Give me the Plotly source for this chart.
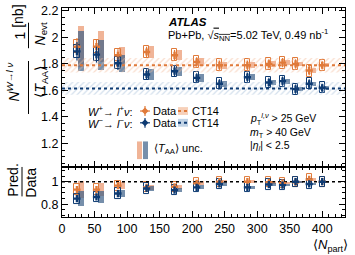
import plotly.graph_objects as go
from plotly.subplots import make_subplots

# ---------------- data ----------------
npart = [23, 53, 86, 130, 173, 207, 242, 285, 318, 339, 359, 380, 400]
wplus = [1.93, 1.93, 1.865, 1.89, 1.865, 1.815, 1.79, 1.79, 1.80, 1.81, 1.80, 1.75, 1.79]
wminus = [1.895, 1.87, 1.805, 1.72, 1.745, 1.695, 1.65, 1.70, 1.66, 1.67, 1.61, 1.65, 1.62]
stat_plus = [0.065, 0.055, 0.045, 0.04, 0.04, 0.035, 0.035, 0.035, 0.035, 0.035, 0.035, 0.035, 0.03]
stat_minus = [0.07, 0.06, 0.05, 0.04, 0.04, 0.035, 0.035, 0.035, 0.035, 0.035, 0.035, 0.035, 0.03]
sys_plus = [0.05, 0.048, 0.045, 0.045, 0.045, 0.045, 0.045, 0.045, 0.045, 0.045, 0.045, 0.045, 0.04]
sys_minus = [0.05, 0.048, 0.045, 0.042, 0.042, 0.042, 0.042, 0.042, 0.042, 0.042, 0.042, 0.042, 0.04]
taa_rel = [0.08, 0.06, 0.035, 0.025, 0.02, 0.017, 0.015, 0.013, 0.012, 0.011, 0.01, 0.01, 0.009]
ratio_plus = [0.93, 0.93, 0.965, 0.95, 0.955, 0.985, 1.0, 1.0, 0.995, 0.99, 0.995, 1.02, 1.0]
ratio_minus = [0.85, 0.865, 0.895, 0.94, 0.925, 0.95, 0.98, 0.95, 0.975, 0.97, 1.0, 0.98, 1.0]
ratio_sys = [0.045] * 13
ct14_plus, ct14_plus_unc = 1.79, 0.055
ct14_minus, ct14_minus_unc = 1.615, 0.048
x_range = [0, 435]

ORANGE = "#E07A3A"
ORANGE_SH = "rgba(232,140,95,0.65)"
BLUE = "#0E3B73"
BLUE_SH = "rgba(60,95,135,0.7)"
FONT = "Liberation Sans, Arial, sans-serif"

fig = make_subplots(rows=2, cols=1, shared_xaxes=True, vertical_spacing=0,
                    row_heights=[0.761, 0.239])

for c, u, col, pat in [(ct14_plus, ct14_plus_unc, ORANGE, "#F3BC9B"),
                       (ct14_minus, ct14_minus_unc, BLUE, "#A7C0DA")]:
    fig.add_trace(go.Scatter(x=[x_range[0], x_range[1], x_range[1], x_range[0], x_range[0]],
                             y=[c - u, c - u, c + u, c + u, c - u], mode="lines",
                             line=dict(width=0), fill="toself", fillcolor="rgba(0,0,0,0)",
                             fillpattern=dict(shape="/", fgcolor=pat, bgcolor="rgba(255,255,255,0)",
                                              size=4, solidity=0.3),
                             hoverinfo="skip", showlegend=False), row=1, col=1)
    fig.add_trace(go.Scatter(x=x_range, y=[c, c], mode="lines",
                             line=dict(color=col, width=2, dash="dot"),
                             showlegend=False), row=1, col=1)

fig.add_trace(go.Scatter(x=x_range, y=[1, 1], mode="lines",
                         line=dict(color="black", width=1.5, dash="dot"), showlegend=False),
              row=2, col=1)

W_BOX = 8.0
W_TAA = 9.0
OFF_TAA = 2.0


def add_series(row, vals, stat, sys, col, shade):
    taa = [v * r for v, r in zip(vals, taa_rel)]
    fig.add_trace(go.Bar(x=npart, y=[2 * t for t in taa], base=[v - t for v, t in zip(vals, taa)],
                         width=W_TAA, offset=OFF_TAA, marker=dict(color=shade, line=dict(width=0)),
                         showlegend=False), row=row, col=1)
    fig.add_trace(go.Bar(x=npart, y=[2 * s for s in sys], base=[v - s for v, s in zip(vals, sys)],
                         width=W_BOX, offset=-W_BOX / 2,
                         marker=dict(color="rgba(0,0,0,0)", line=dict(color=col, width=1)),
                         showlegend=False), row=row, col=1)
    fig.add_trace(go.Scatter(x=npart, y=vals, mode="markers",
                             marker=dict(symbol="cross", size=6, color=col),
                             error_y=dict(type="data", array=stat, color=col, thickness=1.2, width=0)
                             if stat is not None else None,
                             showlegend=False), row=row, col=1)


add_series(1, wplus, stat_plus, sys_plus, ORANGE, ORANGE_SH)
add_series(1, wminus, stat_minus, sys_minus, BLUE, BLUE_SH)
add_series(2, ratio_plus, None, ratio_sys, ORANGE, ORANGE_SH)
add_series(2, ratio_minus, None, ratio_sys, BLUE, BLUE_SH)

axis_common = dict(showline=True, linecolor="black", linewidth=1, mirror="ticks",
                   ticks="inside", ticklen=6, tickcolor="black", showgrid=False, zeroline=False,
                   tickfont=dict(family=FONT, size=12.5, color="black"))
fig.update_xaxes(range=x_range, dtick=50, tick0=0,
                 minor=dict(ticks="inside", ticklen=3, dtick=10, tickcolor="black"), **axis_common)
fig.update_xaxes(showticklabels=False, row=1, col=1)
fig.update_yaxes(range=[1.022, 2.222], tickvals=[1.2, 1.4, 1.6, 1.8, 2.0, 2.2],
                 ticktext=["1.2", "1.4", "1.6", "1.8", "2", "2.2"],
                 minor=dict(ticks="inside", ticklen=3, dtick=0.05, tick0=1.0, tickcolor="black"),
                 row=1, col=1, **axis_common)
fig.update_yaxes(range=[0.687, 1.13], tickvals=[0.8, 1.0], ticktext=["0.8", "1"],
                 minor=dict(ticks="inside", ticklen=3, dtick=0.05, tick0=0.7, tickcolor="black"),
                 row=2, col=1, **axis_common)

L, R, T, B = 62, 345, 4, 217


def px(x):
    return (x - L) / (R - L)


def py(y):
    return (B - y) / (B - T)


ann = []


def text(x, y, s, size=11, anchor="left", angle=0):
    ann.append(dict(x=px(x), y=py(y), xref="paper", yref="paper", text=s, showarrow=False,
                    xanchor=anchor, yanchor="middle", textangle=angle,
                    font=dict(family=FONT, size=size, color="black")))


# y-axis title (stacked fraction layout)
text(13, 80, "<i>N</i><sup><i>W</i>→<i>l</i> <i>ν</i></sup>", size=14, anchor="center", angle=-90)
text(41, 79, "⟨<i>T</i><sub>AA</sub>⟩", size=14, anchor="center", angle=-90)
text(20, 32, "1", size=14, anchor="center", angle=-90)
text(41, 31, "<i>N</i><sub>evt</sub>", size=14, anchor="center", angle=-90)
text(18, 13, "[nb]", size=14, anchor="center", angle=-90)
text(13, 180, "Pred.", size=14, anchor="center", angle=-90)
text(31, 182, "Data", size=14, anchor="center", angle=-90)
text(350, 246, "⟨<i>N</i><sub>part</sub>⟩", size=13, anchor="right")

ann.append(dict(x=px(166), y=py(18), xref="paper", yref="paper", showarrow=False,
                xanchor="left", yanchor="middle", text="<b><i>ATLAS</i></b>",
                font=dict(family=FONT, size=11.5, color="black")))
text(166, 32, "Pb+Pb, √<span style='text-decoration:overline'><i>s</i><sub>NN</sub></span>"
              "=5.02 TeV, 0.49 nb<sup>-1</sup>", size=11)

text(86, 109, "<i>W</i><sup>+</sup>→ <i>l</i><sup>+</sup><i>ν</i>:", size=11)
text(86, 121, "<i>W</i><sup>−</sup>→ <i>l</i><sup>−</sup><i>ν</i>:", size=11)
text(151, 109, "Data", size=11)
text(151, 121, "Data", size=11)
text(190, 109, "CT14", size=11)
text(190, 121, "CT14", size=11)
text(248, 117, "<i>p</i><sub>T</sub><sup><i>l,ν</i></sup> > 25 GeV", size=10.5)
text(248, 131.5, "<i>m</i><sub>T</sub> > 40 GeV", size=10.5)
text(248, 145, "|<i>η</i><sub><i>l</i></sub>| < 2.5", size=10.5)
text(152, 148, "⟨<i>T</i><sub>AA</sub>⟩ unc.", size=11)

shapes = []


def pline(x0, y0, x1, y1, color="black", width=1, dash="solid"):
    shapes.append(dict(type="line", xref="paper", yref="paper", x0=px(x0), y0=py(y0),
                       x1=px(x1), y1=py(y1), line=dict(color=color, width=width, dash=dash)))


def prect(x0, y0, x1, y1, fill, line=None):
    shapes.append(dict(type="rect", xref="paper", yref="paper", x0=px(x0), y0=py(y0),
                       x1=px(x1), y1=py(y1), fillcolor=fill,
                       line=dict(width=0 if line is None else 1, color=line or fill)))


# fraction bars of the axis titles
pline(28.5, 58, 28.5, 112)
pline(28.5, 19, 28.5, 45)
pline(22, 166, 22, 196)

# legend glyphs
for yy, col in [(109, ORANGE), (121, BLUE)]:
    pline(145, yy - 5, 145, yy + 5, col, 1.2)
    pline(140, yy, 150, yy, col, 1.2)
    shapes.append(dict(type="path", xref="paper", yref="paper",
                       path="M {} {} L {} {} L {} {} L {} {} Z".format(
                           px(145), py(yy - 3.5), px(148.5), py(yy), px(145), py(yy + 3.5),
                           px(141.5), py(yy)),
                       fillcolor=col, line=dict(width=0)))
for yy, col, pat in [(109, ORANGE, "rgba(243,188,155,0.7)"), (121, BLUE, "rgba(167,192,218,0.7)")]:
    prect(178, yy - 4, 188, yy + 4, pat)
    pline(178, yy, 188, yy, col, 2, "dot")
prect(137, 140, 142, 158, ORANGE_SH)
prect(143, 140, 148, 158, BLUE_SH)

fig.update_layout(width=355, height=255, margin=dict(l=L, r=355 - R, t=T, b=255 - B),
                  plot_bgcolor="white", paper_bgcolor="white", barmode="overlay",
                  bargap=0, showlegend=False, annotations=ann, shapes=shapes,
                  font=dict(family=FONT, color="black"))

fig.write_html("out.html")
